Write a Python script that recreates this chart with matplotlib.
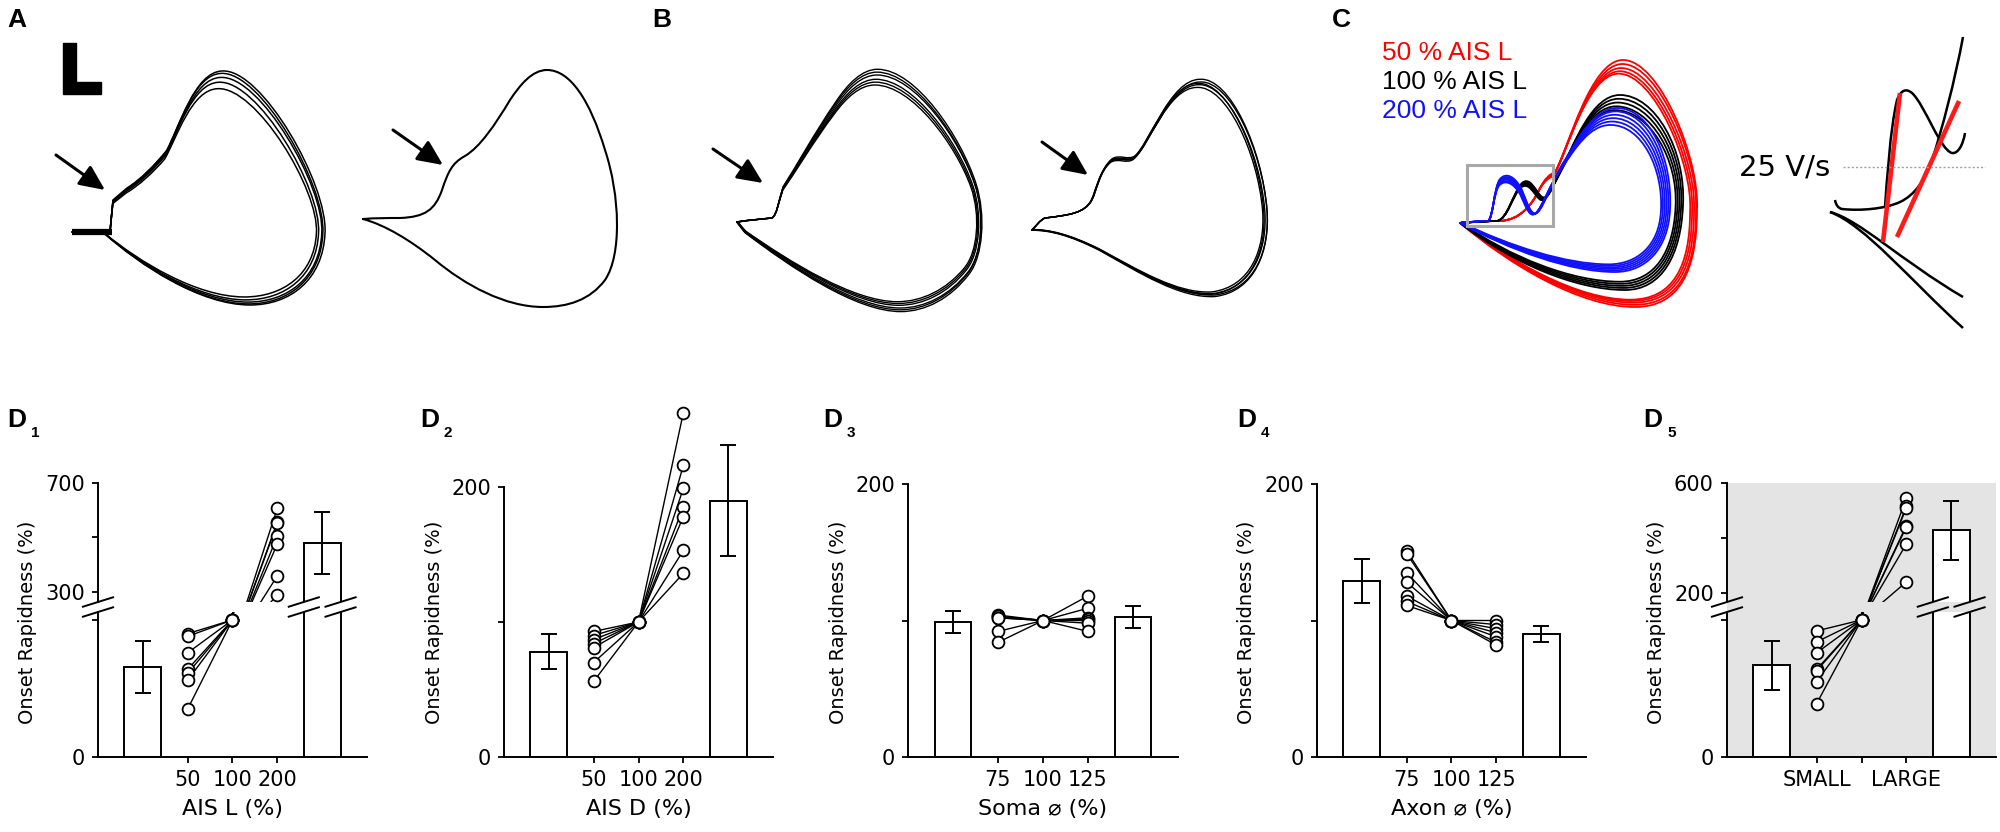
import numpy as np
import matplotlib
matplotlib.use('Agg')
import matplotlib.pyplot as plt
from matplotlib.path import Path
from matplotlib.patches import PathPatch, Rectangle
from matplotlib.transforms import Affine2D

plt.rcParams['font.family'] = ['DejaVu Sans']

# ---------------- D panels: onset rapidness (% of control) ----------------
d1_ticks = ['50', '100', '200']
d1_bar = [66, 480]
d1_err = [19, 115]
d1_lo = [90, 88, 76, 64, 61, 56, 35]
d1_mid = [100, 100, 100, 100, 100, 100, 100]
d1_hi = [608, 557, 553, 505, 476, 359, 290]

d2_ticks = ['50', '100', '200']
d2_bar = [78, 190]
d2_err = [13, 41]
d2_lo = [93, 90, 87, 84, 81, 70, 56]
d2_mid = [100, 100, 100, 100, 100, 100, 100]
d2_hi = [255, 216, 199, 185, 178, 153, 136]

d3_ticks = ['75', '100', '125']
d3_bar = [99, 102.5]
d3_err = [8, 8]
d3_lo = [104, 103, 103, 102, 102, 92, 84]
d3_mid = [100, 100, 100, 100, 100, 100, 100]
d3_hi = [118, 109, 102, 101, 100, 98, 92]

d4_ticks = ['75', '100', '125']
d4_bar = [129, 90]
d4_err = [16, 6]
d4_lo = [151, 149, 135, 128, 118, 114, 111]
d4_mid = [100, 100, 100, 100, 100, 100, 100]
d4_hi = [100, 97, 94, 91, 88, 84, 82]

d5_ticks = ['SMALL', '', 'LARGE']
d5_bar = [67, 428]
d5_err = [18, 108]
d5_lo = [92, 84, 76, 64, 63, 55, 39]
d5_mid = [100, 100, 100, 100, 100, 100, 100]
d5_hi = [545, 515, 510, 445, 440, 378, 240]

# ---------------- phase plot sketches (pixel coords, bezier control points) ----------------
a1_loop = [(72, 232), (85, 232), (98, 232), (110, 232), (111, 221), (112, 210), (113, 200),
           (118, 196), (122, 192), (127, 188), (140, 180), (155, 165), (167, 150),
           (180, 125), (195, 72), (222, 71), (262, 68), (328, 185), (325, 233),
           (323, 280), (290, 305), (250, 305), (200, 305), (140, 265), (105, 234),
           (95, 233), (85, 232), (72, 232)]
a1_sx = [1.0, 0.99, 0.985, 0.97, 0.96]
a1_sy = [1.0, 0.985, 0.96, 0.93, 0.89]

a2_loop = [(363, 219), (375, 218), (388, 218), (400, 218), (425, 217), (435, 210), (442, 190),
           (448, 172), (452, 163), (465, 156), (480, 147), (495, 125), (510, 100),
           (520, 85), (532, 70), (547, 70), (570, 70), (590, 100), (605, 150),
           (620, 195), (622, 255), (605, 280), (590, 300), (568, 307), (543, 307),
           (505, 307), (465, 285), (435, 260), (410, 240), (385, 225), (363, 219)]

b1_loop = [(737, 222), (750, 220), (762, 219), (772, 218), (777, 215), (779, 200), (783, 188),
           (795, 170), (815, 135), (835, 107), (848, 88), (862, 75), (877, 75),
           (915, 75), (960, 140), (975, 185), (985, 215), (982, 255), (968, 272),
           (950, 295), (925, 308), (900, 308), (855, 308), (790, 265), (745, 232),
           (742, 228), (739, 225), (737, 222)]
b1_sx = [1.0, 0.99, 0.985, 1.0, 1.005, 0.98]
b1_sy = [1.0, 0.97, 0.95, 1.02, 1.04, 0.93]

b2_loop = [(1032, 230), (1036, 226), (1040, 220), (1045, 218), (1070, 215), (1085, 213), (1092, 200),
           (1097, 190), (1100, 170), (1112, 160), (1120, 155), (1128, 162), (1135, 157),
           (1150, 145), (1170, 82), (1200, 82), (1230, 80), (1262, 150), (1267, 210),
           (1270, 250), (1255, 290), (1215, 295), (1180, 297), (1140, 272), (1100, 250),
           (1070, 235), (1050, 230), (1032, 230)]
b2_sx = [1.0, 0.99, 0.98, 1.0, 0.985]
b2_sy = [1.0, 0.98, 0.96, 1.02, 0.99]

c_red = [(1460, 223), (1472, 222), (1488, 221), (1500, 221), (1520, 220), (1532, 205), (1540, 188),
         (1545, 178), (1550, 174), (1555, 172), (1568, 150), (1590, 60), (1623, 60),
         (1660, 60), (1700, 160), (1697, 210), (1697, 270), (1680, 307), (1635, 307),
         (1580, 307), (1510, 265), (1460, 223)]
c_red_sx = [1.0, 0.995, 0.985, 0.975, 0.965]
c_red_sy = [1.0, 0.975, 0.95, 0.93, 0.915]

c_black = [(1460, 223), (1475, 222), (1487, 221), (1497, 221), (1508, 219), (1513, 192), (1522, 183),
           (1530, 176), (1535, 190), (1541, 196), (1547, 202), (1552, 188), (1560, 172),
           (1575, 142), (1592, 95), (1620, 95), (1655, 95), (1686, 150), (1683, 205),
           (1681, 255), (1662, 290), (1625, 290), (1575, 290), (1510, 262), (1460, 223)]
c_black_sx = [1.0, 0.99, 0.98, 0.97, 0.96]
c_black_sy = [1.0, 0.97, 0.94, 0.91, 0.88]

c_blue = [(1460, 223), (1470, 222), (1480, 221), (1488, 221), (1493, 219), (1494, 186), (1500, 179),
          (1506, 172), (1515, 176), (1522, 190), (1528, 205), (1532, 218), (1538, 212),
          (1545, 205), (1552, 180), (1565, 160), (1580, 135), (1595, 108), (1617, 108),
          (1650, 108), (1673, 160), (1670, 210), (1668, 250), (1645, 272), (1615, 272),
          (1570, 272), (1510, 250), (1460, 223)]
c_blue_sx = [1.0, 0.99, 0.98, 0.97, 0.96, 0.95]
c_blue_sy = [1.0, 0.97, 0.94, 0.91, 0.88, 0.85]

zoom_up1 = [(1835, 200), (1836, 205), (1838, 208), (1842, 209), (1860, 211), (1885, 209), (1900, 202),
            (1915, 195), (1925, 180), (1932, 160), (1942, 130), (1955, 80), (1963, 37)]
zoom_up2 = [(1885, 207), (1887, 180), (1890, 130), (1897, 100), (1901, 90), (1906, 88), (1912, 93),
            (1925, 105), (1940, 150), (1952, 153), (1958, 154), (1963, 145), (1965, 133)]
zoom_dn1 = [(1830, 212), (1860, 220), (1900, 260), (1963, 297)]
zoom_dn2 = [(1830, 212), (1865, 225), (1910, 280), (1963, 328)]
zoom_fit1 = [(1883, 242), (1900, 93)]
zoom_fit2 = [(1897, 237), (1959, 101)]

c_legend = ['50 % AIS L', '100 % AIS L', '200 % AIS L']

W, H = 2000, 832
fig = plt.figure(figsize=(W / 100, H / 100), dpi=100)
GREY = '#e4e4e4'
BAR_X = [0, 4]
PT_X = [1, 2, 3]


def box(x0, x1, y0, y1):
    return [x0 / W, 1 - y1 / H, (x1 - x0) / W, (y1 - y0) / H]


def style(ax, yt, yl):
    for s in ['top', 'right']:
        ax.spines[s].set_visible(False)
    ax.spines['left'].set_linewidth(1.4)
    ax.spines['bottom'].set_linewidth(1.4)
    ax.set_xlim(-1, 5)
    ax.set_yticks(yt)
    ax.set_yticklabels(yl)
    ax.tick_params(direction='out', length=4.5, width=1.3, labelsize=15, pad=5)


def fill(ax, bar, err, lo, mid, hi):
    y0, y1 = ax.get_ylim()
    ax.bar(BAR_X, bar, width=0.82, color='white', edgecolor='black', linewidth=1.4, zorder=2)
    ax.errorbar(BAR_X, bar, yerr=err, fmt='none', ecolor='black', elinewidth=1.4,
                capsize=6, capthick=1.4, zorder=3)
    for a, b, c in zip(lo, mid, hi):
        ax.plot(PT_X, [a, b, c], color='black', lw=1.0, zorder=4)
    for x, vals in zip(PT_X, [lo, mid, hi]):
        v = [q for q in vals if y0 <= q <= y1]
        ax.plot([x] * len(v), v, ls='none', marker='o', ms=8.5, mfc='white', mec='black',
                mew=1.3, zorder=5, clip_on=False)


def simple(x0, x1, ytop, ymax, bar, err, lo, mid, hi, ticks, xlabel, spine_top=None):
    ax = fig.add_axes(box(x0, x1, ytop, 757))
    ax.patch.set_visible(False)
    ax.set_ylim(0, ymax)
    style(ax, [0, 100, 200], ['0', '', '200'])
    if spine_top:
        ax.spines['left'].set_bounds(0, spine_top)
    ax.set_xticks(PT_X)
    ax.set_xticklabels(ticks)
    fill(ax, bar, err, lo, mid, hi)
    ax.set_xlabel(xlabel, fontsize=16, labelpad=6)
    return ax


def broken(x0, x1, ylim_up, yt_up, bar, err, lo, mid, hi, ticks, xlabel, face):
    low = fig.add_axes(box(x0, x1, 612, 757))
    up = fig.add_axes(box(x0, x1, 483, 602))
    low.set_ylim(0, 105.8)
    up.set_ylim(*ylim_up)
    for ax in (low, up):
        ax.set_facecolor(face)
    style(low, [0, 100], ['0', ''])
    style(up, yt_up, [str(yt_up[0]), '', str(yt_up[2])])
    up.spines['bottom'].set_visible(False)
    up.set_xticks([])
    low.set_xticks(PT_X)
    low.set_xticklabels(ticks)
    fill(low, bar, err, lo, mid, hi)
    fill(up, bar, err, lo, mid, hi)
    if xlabel:
        low.set_xlabel(xlabel, fontsize=16, labelpad=6)
    return low, up


d1_low, d1_up = broken(98, 367, (263, 700), [300, 500, 700], d1_bar, d1_err, d1_lo, d1_mid, d1_hi,
                       d1_ticks, 'AIS L (%)', 'white')
simple(504, 773, 406, 260, d2_bar, d2_err, d2_lo, d2_mid, d2_hi, d2_ticks, 'AIS D (%)', spine_top=200)
simple(908, 1178, 484, 200, d3_bar, d3_err, d3_lo, d3_mid, d3_hi, d3_ticks, 'Soma \u2300 (%)')
simple(1317, 1586, 484, 200, d4_bar, d4_err, d4_lo, d4_mid, d4_hi, d4_ticks, 'Axon \u2300 (%)')
d5_low, d5_up = broken(1727, 1996, (167, 600), [200, 400, 600], d5_bar, d5_err, d5_lo, d5_mid, d5_hi,
                       d5_ticks, None, GREY)

# ---------------- overlay in pixel coordinates ----------------
ov = fig.add_axes([0, 0, 1, 1])
ov.set_xlim(0, W)
ov.set_ylim(H, 0)
ov.axis('off')
ov.patch.set_visible(False)

ov.add_patch(Rectangle((1727, 602), 269, 10, fc=GREY, ec='none', zorder=1))


def marks(ax):
    xs = [-1, BAR_X[1] - 0.41, BAR_X[1] + 0.41]
    for x in xs:
        cx = ax.transData.transform((x, 0))[0]
        for dy in (0, 10):
            ov.plot([cx - 16, cx + 16], [607 + dy, 597 + dy], color='black', lw=1.4,
                    solid_capstyle='butt', zorder=4)


marks(d1_low)
marks(d5_low)

# y labels
for xa in (98, 504, 908, 1317, 1727):
    ov.text(xa - 70, 622, 'Onset Rapidness (%)', rotation=90, fontsize=14, ha='center', va='center')

# panel labels
for lab, x in zip('ABC', (7, 652, 1332)):
    ov.text(x, 27, lab, fontsize=19, fontweight='bold', family='Liberation Sans', va='baseline')
for i, x in enumerate((7, 420, 823, 1237, 1643)):
    ov.text(x, 427, 'D', fontsize=19, fontweight='bold', family='Liberation Sans', va='baseline')
    ov.text(x + 24, 437, str(i + 1), fontsize=11, fontweight='bold', family='Liberation Sans',
            va='baseline')


def bez(pts):
    pts = np.asarray(pts, dtype=float)
    return Path(pts, [Path.MOVETO] + [Path.CURVE4] * (len(pts) - 1))


def traces(pts, sx, sy, color, lw):
    p = bez(pts)
    ax0, ay0 = pts[3]
    for a, b in zip(sx, sy):
        tr = Affine2D().translate(-ax0, -ay0).scale(a, b).translate(ax0, ay0)
        ov.add_patch(PathPatch(p, fill=False, ec=color, lw=lw, transform=tr + ov.transData,
                               joinstyle='round', capstyle='round'))


def arrow(tail, tip):
    ov.annotate('', xy=tip, xytext=tail,
                arrowprops=dict(arrowstyle='-|>,head_length=0.7,head_width=0.32', lw=2.2,
                                color='black', shrinkA=0, shrinkB=0, mutation_scale=22))


# A
ov.fill([63, 76, 76, 101, 101, 63], [43, 43, 82, 82, 94, 94], color='black')
traces(a1_loop, a1_sx, a1_sy, 'black', 1.1)
ov.plot([72, 112], [232, 232], color='black', lw=4.5, solid_capstyle='butt')
traces(a2_loop, [1.0], [1.0], 'black', 1.5)
arrow((56, 155), (105, 190))
arrow((393, 130), (443, 165))

# B
traces(b1_loop, b1_sx, b1_sy, 'black', 1.0)
traces(b2_loop, b2_sx, b2_sy, 'black', 1.0)
arrow((713, 149), (763, 183))
arrow((1042, 142), (1088, 175))

# C
traces(c_red, c_red_sx, c_red_sy, '#ff0000', 1.3)
traces(c_black, c_black_sx, c_black_sy, 'black', 1.3)
traces(c_blue, c_blue_sx, c_blue_sy, '#1010ff', 1.3)
ov.add_patch(Rectangle((1467, 165), 86, 61, fill=False, ec='#a8a8a8', lw=2.2, zorder=5))
for txt, col, yb in zip(c_legend, ['#ff0000', 'black', '#1010ff'], (60, 89, 118)):
    ov.text(1382, yb, txt, color=col, fontsize=19, family='Liberation Sans', va='baseline')

for pts in (zoom_up1, zoom_up2, zoom_dn1, zoom_dn2):
    ov.add_patch(PathPatch(bez(pts), fill=False, ec='black', lw=1.8, capstyle='butt'))
for seg in (zoom_fit1, zoom_fit2):
    ov.plot([seg[0][0], seg[1][0]], [seg[0][1], seg[1][1]], color='#ff1a1a', lw=3.3,
            solid_capstyle='butt')
ov.plot([1843, 1985], [167, 167], color='#a0a0a0', lw=1.0, ls=(0, (1.5, 1.5)))
ov.text(1830, 167, '25 V/s', fontsize=21, ha='right', va='center')

fig.savefig('out.png', dpi=100, facecolor='white')
